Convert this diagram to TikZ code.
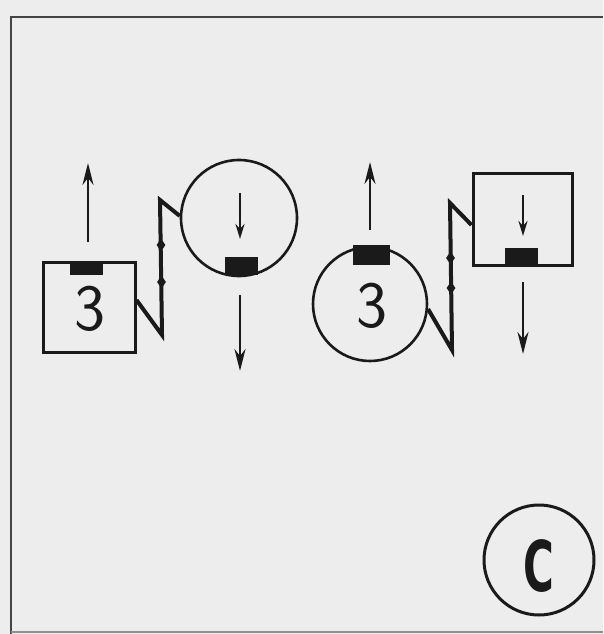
\documentclass[tikz,border=0pt]{standalone}
\usepackage{fontspec}
\newfontfamily\labelfont{DejaVu Sans}
\usetikzlibrary{arrows.meta,shapes.geometric}
\definecolor{bg}{HTML}{EDEDED}
\definecolor{ink}{HTML}{1A1A1A}
\definecolor{frame}{HTML}{444444}
\begin{document}
\begin{tikzpicture}[x=1pt,y=-1pt,
  sqbox/.style={draw=ink,line width=3pt,rectangle,inner sep=0pt},
  circ/.style={draw=ink,line width=2.6pt,circle,inner sep=0pt},
  bar/.style={fill=ink,rectangle,inner sep=0pt},
  arr/.style={draw=ink,line width=2.6pt,-{Stealth[length=22pt,width=11pt]}},
  sarr/.style={draw=ink,line width=2.6pt,-{Stealth[length=15pt,width=9pt]}},
  zig/.style={draw=ink,line width=4pt,line join=miter},
  dotm/.style={fill=ink,diamond,inner sep=0pt,minimum width=9pt,minimum height=13pt},
  digit/.style={font=\fontsize{66}{66}\sffamily,inner sep=0pt,text=ink}]
\fill[bg] (0,0) rectangle (603,634);
\useasboundingbox (0,0) rectangle (603,634);
\draw[frame,line width=2.6pt] (11,634) -- (11,17) -- (603,17);
\draw[frame!60,line width=1.2pt] (11,632) -- (603,632);
% left group
\node[sqbox,minimum width=92pt,minimum height=90pt] (s1) at (89,307) {};
\node[bar,minimum width=33pt,minimum height=13pt] (b1) at (86.5,268.5) {};
\node[digit] (t1) at (90,309) {3};
\coordinate (u1s) at (88,242); \coordinate (u1e) at (88,163);
\draw[arr] (u1s) -- (u1e);
\node[circ,minimum size=116pt] (c1) at (239,218) {};
\node[bar,minimum width=33pt,minimum height=18pt] (b2) at (241.5,266) {};
\coordinate (i1s) at (240,193); \coordinate (i1e) at (240,239);
\draw[sarr] (i1s) -- (i1e);
\coordinate (d1s) at (240,295); \coordinate (d1e) at (240,371);
\draw[arr] (d1s) -- (d1e);
\coordinate (z1a) at (162,335); \coordinate (z1b) at (160,200);
\draw[zig] (s1.east |- 0,300) -- (z1a) -- (z1b) -- (c1.178);
\node[dotm] (m1) at (161,245) {};
\node[dotm] (m2) at (161.5,282) {};
% right group
\node[circ,minimum size=114pt] (c2) at (370,304) {};
\node[bar,minimum width=37pt,minimum height=20pt] (b3) at (371.5,255) {};
\node[digit] (t2) at (372,306) {3};
\coordinate (u2s) at (370,230); \coordinate (u2e) at (370,162);
\draw[arr] (u2s) -- (u2e);
\node[sqbox,minimum width=99pt,minimum height=92pt] (s2) at (522.5,219) {};
\node[bar,minimum width=33pt,minimum height=17pt] (b4) at (521.5,256.5) {};
\coordinate (i2s) at (523,195); \coordinate (i2e) at (523,236);
\draw[sarr] (i2s) -- (i2e);
\coordinate (d2s) at (523,282); \coordinate (d2e) at (523,354);
\draw[arr] (d2s) -- (d2e);
\coordinate (z2a) at (452,350); \coordinate (z2b) at (450,203);
\draw[zig] (c2.-5) -- (z2a) -- (z2b) -- (s2.west |- 0,225);
\node[dotm] (m3) at (450.5,258) {};
\node[dotm] (m4) at (451,288) {};
% label
\node[circ,line width=3pt,minimum size=110pt] (cc) at (539,560) {};
\node[font=\fontsize{70}{70}\labelfont\bfseries,xscale=0.6,inner sep=0pt,text=ink] (cl) at (539,566) {C};
\end{tikzpicture}
\end{document}
